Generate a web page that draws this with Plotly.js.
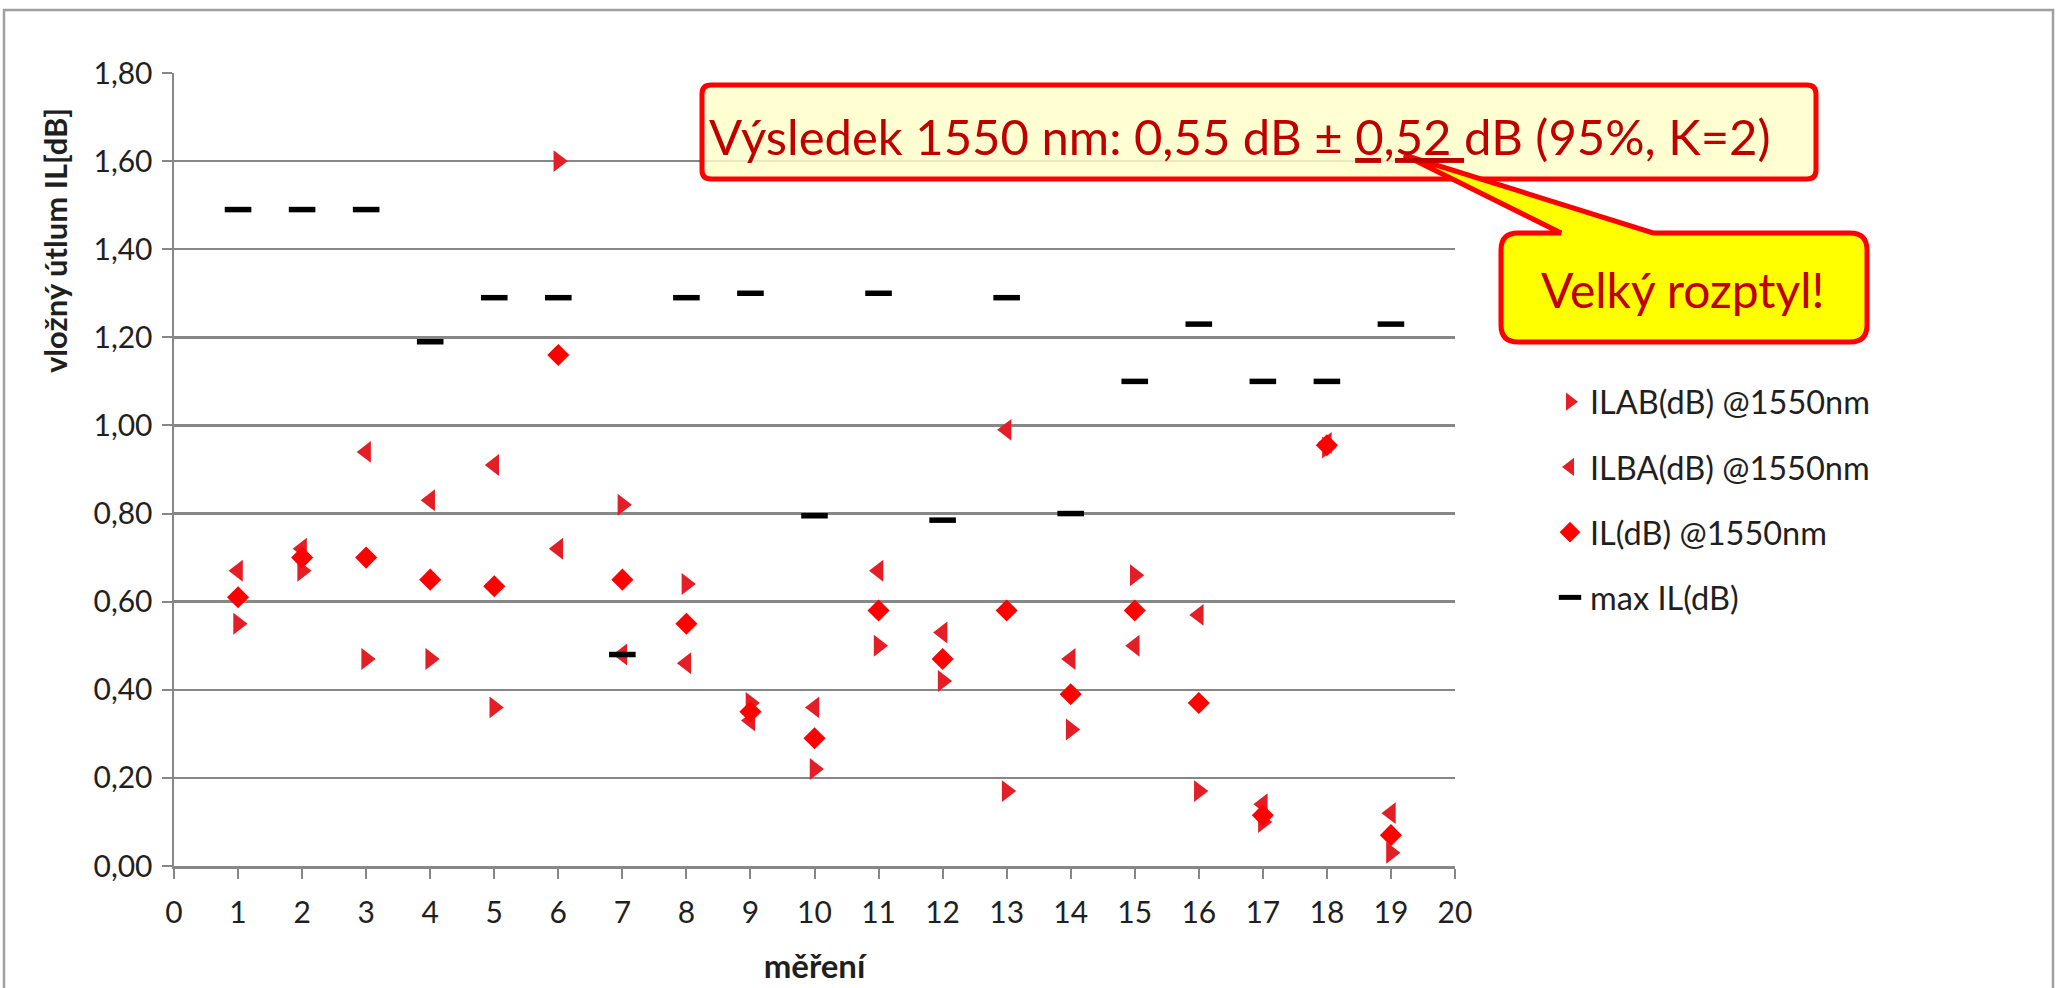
<!DOCTYPE html>
<html>
<head>
<meta charset="utf-8">
<script src="https://cdn.plot.ly/plotly-3.0.1.min.js"></script>
<style>
html,body{margin:0;padding:0;background:#fff;}
#chart{width:2059px;height:988px;}
</style>
</head>
<body>
<div id="chart"></div>
<script>
// ---- data ----
const measurements = [1,2,3,4,5,6,7,8,9,10,11,12,13,14,15,16,17,18,19];
const ilab = [0.55,0.67,0.47,0.47,0.36,1.60,0.82,0.64,0.37,0.22,0.50,0.42,0.17,0.31,0.66,0.17,0.10,0.95,0.03];
const ilba = [0.67,0.72,0.94,0.83,0.91,0.72,0.48,0.46,0.33,0.36,0.67,0.53,0.99,0.47,0.50,0.57,0.14,0.96,0.12];
const il   = [0.61,0.70,0.70,0.65,0.635,1.16,0.65,0.55,0.35,0.29,0.58,0.47,0.58,0.39,0.58,0.37,0.115,0.955,0.07];
const maxIl = [1.49,1.49,1.49,1.19,1.29,1.29,0.48,1.29,1.30,0.795,1.30,0.785,1.29,0.80,1.10,1.23,1.10,1.10,1.23];
const seriesNames = ['ILAB(dB) @1550nm','ILBA(dB) @1550nm','IL(dB) @1550nm','max IL(dB)'];
const yTitle = 'vložný útlum IL[dB]';
const xTitle = 'měření';
const resultText = 'Výsledek 1550 nm: 0,55 dB ± <u>0,52 </u>dB (95%, K=2)';
const calloutText = 'Velký rozptyl!';

// ---- layout geometry (pixels) ----
const W = 2059, H = 988;
const L = 174, R = 1455, T = 73, B = 866;
const px = x => (x - L) / (R - L);
const py = y => (B - y) / (B - T);
const P = (x, y) => px(x).toFixed(5) + ',' + py(y).toFixed(5);

function roundRect(x0, y0, x1, y1, r, wedge) {
  let s = 'M' + P(x0 + r, y0);
  if (wedge) {
    s += ' L' + P(wedge[0], y0) + ' L' + P(wedge[2], wedge[3]) + ' L' + P(wedge[1], y0);
  }
  s += ' L' + P(x1 - r, y0) + ' Q' + P(x1, y0) + ' ' + P(x1, y0 + r);
  s += ' L' + P(x1, y1 - r) + ' Q' + P(x1, y1) + ' ' + P(x1 - r, y1);
  s += ' L' + P(x0 + r, y1) + ' Q' + P(x0, y1) + ' ' + P(x0, y1 - r);
  s += ' L' + P(x0, y0 + r) + ' Q' + P(x0, y0) + ' ' + P(x0 + r, y0) + ' Z';
  return s;
}

const FONT = 'Lato, "Open Sans", sans-serif';
const GRID = '#878787';
const TXT = '#1f1f1f';

const traces = [
  { x: measurements, y: ilab, name: seriesNames[0], type: 'scatter', mode: 'markers', legendgroup: 'a',
    marker: { symbol: 'triangle-right', size: 19, color: '#e41e26' } },
  { x: measurements, y: ilba, name: seriesNames[1], type: 'scatter', mode: 'markers', legendgroup: 'b',
    marker: { symbol: 'triangle-left', size: 19, color: '#e41e26' } },
  { x: measurements, y: il, name: seriesNames[2], type: 'scatter', mode: 'markers', legendgroup: 'c',
    marker: { symbol: 'diamond', size: 17, color: '#ff0000' } },
  { x: measurements, y: maxIl, name: seriesNames[3], type: 'scatter', mode: 'markers', legendgroup: 'd',
    marker: { symbol: 'line-ew', size: 19, color: '#000', line: { color: '#000', width: 5.5 } } }
];

const layout = {
  width: W, height: H,
  margin: { l: L, r: W - R, t: T, b: H - B, pad: 0 },
  paper_bgcolor: '#ffffff', plot_bgcolor: '#ffffff',
  separators: ', ',
  font: { family: FONT, color: TXT, size: 30 },
  showlegend: true,
  legend: {
    x: px(1550), xanchor: 'left', y: py(374), yanchor: 'top',
    font: { family: FONT, size: 32.5, color: TXT },
    bgcolor: 'rgba(0,0,0,0)', traceorder: 'grouped', tracegroupgap: 20,
    itemsizing: 'trace'
  },
  xaxis: {
    range: [0, 20], dtick: 1, tick0: 0, showgrid: false, zeroline: false,
    showline: true, linecolor: GRID, linewidth: 2.5,
    ticks: 'outside', ticklen: 10, tickwidth: 2, tickcolor: GRID,
    tickfont: { family: FONT, size: 30, color: TXT }, ticklabelstandoff: 8,
    title: { text: xTitle, font: { family: FONT, size: 33, weight: 'bold', color: TXT }, standoff: 28 }
  },
  yaxis: {
    range: [0, 1.8], dtick: 0.2, tick0: 0, tickformat: '.2f',
    showgrid: true, gridcolor: GRID, gridwidth: 2.5, zeroline: false,
    showline: true, linecolor: GRID, linewidth: 2.5,
    ticks: 'outside', ticklen: 10, tickwidth: 2, tickcolor: GRID,
    tickfont: { family: FONT, size: 30, color: TXT }, ticklabelstandoff: 3
  },
  shapes: [
    { type: 'rect', xref: 'paper', yref: 'paper', layer: 'below',
      x0: px(4), x1: px(2053), y0: py(10), y1: py(1000),
      line: { color: '#a0a0a0', width: 2.5 }, fillcolor: 'rgba(0,0,0,0)' },
    { type: 'path', xref: 'paper', yref: 'paper', layer: 'above',
      path: roundRect(702, 85, 1816, 179, 9),
      fillcolor: 'rgba(255,255,200,0.82)', line: { color: '#ff0000', width: 5 } },
    { type: 'path', xref: 'paper', yref: 'paper', layer: 'above',
      path: roundRect(1501, 233, 1867, 342, 17, [1561, 1653, 1404, 155]),
      fillcolor: '#ffff00', line: { color: '#ff0000', width: 5 } }
  ],
  annotations: [
    { text: yTitle, xref: 'paper', yref: 'paper', x: px(55), y: py(240),
      xanchor: 'center', yanchor: 'middle', textangle: -90, showarrow: false,
      font: { family: FONT, size: 31, weight: 'bold', color: TXT } },
    { text: resultText, xref: 'paper', yref: 'paper', x: px(1240), y: py(136),
      xanchor: 'center', yanchor: 'middle', showarrow: false,
      font: { family: FONT, size: 49, color: '#c00000' } },
    { text: calloutText, xref: 'paper', yref: 'paper', x: px(1683), y: py(290),
      xanchor: 'center', yanchor: 'middle', showarrow: false,
      font: { family: FONT, size: 48, color: '#c00000' } }
  ]
};

Plotly.newPlot('chart', traces, layout, { displayModeBar: false, staticPlot: true });
</script>
</body>
</html>
